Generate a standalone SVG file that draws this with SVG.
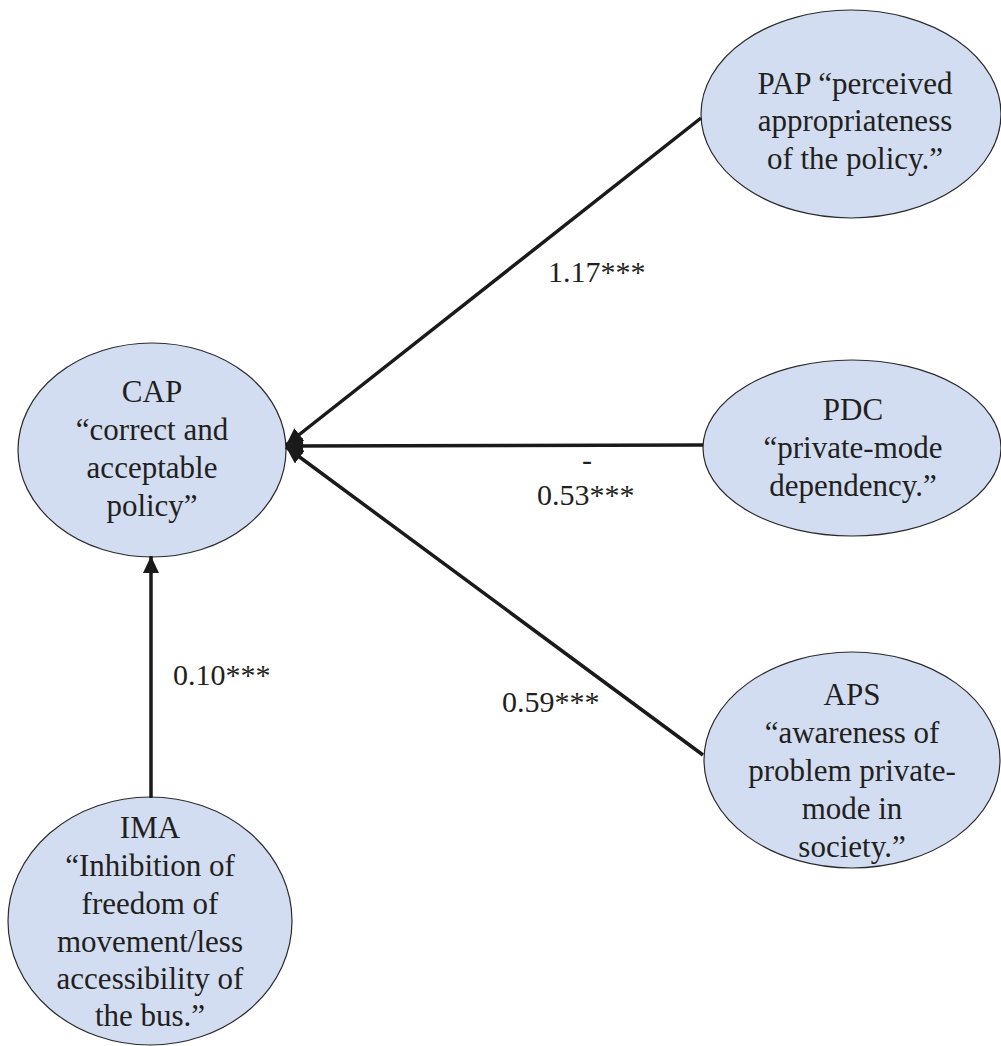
<svg xmlns="http://www.w3.org/2000/svg" width="1001" height="1046" viewBox="0 0 1001 1046">
<style>
.node ellipse{fill:#d2ddf1;stroke:#2b2b2b;stroke-width:1.2}
.node text{font-family:"Liberation Serif","Times New Roman",serif;font-size:31px;fill:#231f20;text-anchor:middle}
.lbl{font-family:"Liberation Serif","Times New Roman",serif;font-size:30px;fill:#231f20}
.edge{stroke:#1a1a1a;stroke-width:3.5;fill:none;marker-end:url(#ah)}
</style>
<defs>
<marker id="ah" markerUnits="userSpaceOnUse" markerWidth="18" markerHeight="16" refX="17" refY="8" orient="auto" viewBox="0 0 18 16">
<path d="M0,0 L17,8 L0,16 z" fill="#1a1a1a"/>
</marker>
</defs>
<rect width="1001" height="1046" fill="#ffffff"/>
<g id="CAP" class="node">
<ellipse cx="152" cy="450" rx="134" ry="107"/>
<text x="152" y="402">CAP</text>
<text x="152" y="440">“correct and</text>
<text x="152" y="478">acceptable</text>
<text x="152" y="516">policy”</text>
</g>
<g id="PAP" class="node">
<ellipse cx="851" cy="114" rx="150" ry="104"/>
<text x="855" y="94">PAP “perceived</text>
<text x="855" y="131">appropriateness</text>
<text x="855" y="169">of the policy.”</text>
</g>
<g id="PDC" class="node">
<ellipse cx="852" cy="448" rx="149" ry="88"/>
<text x="853" y="420">PDC</text>
<text x="853" y="458">“private-mode</text>
<text x="853" y="496">dependency.”</text>
</g>
<g id="APS" class="node">
<ellipse cx="852" cy="760" rx="148" ry="108"/>
<text x="852" y="705">APS</text>
<text x="852" y="743">“awareness of</text>
<text x="852" y="781">problem private-</text>
<text x="852" y="819">mode in</text>
<text x="852" y="857">society.”</text>
</g>
<g id="IMA" class="node">
<ellipse cx="150" cy="921" rx="142" ry="124"/>
<text x="150" y="838">IMA</text>
<text x="150" y="876">“Inhibition of</text>
<text x="150" y="914">freedom of</text>
<text x="150" y="952">movement/less</text>
<text x="150" y="989">accessibility of</text>
<text x="150" y="1026">the bus.”</text>
</g>
<g id="connectors">
<line class="edge" x1="701" y1="118" x2="286" y2="445"/>
<line class="edge" x1="703" y1="445" x2="286" y2="446"/>
<line class="edge" x1="703" y1="755" x2="286" y2="447"/>
<line class="edge" x1="151" y1="798" x2="151" y2="556"/>
</g>
<g id="labels">
<text class="lbl" x="548" y="282">1.17***</text>
<text class="lbl" x="587" y="470" text-anchor="middle">-</text>
<text class="lbl" x="537" y="505">0.53***</text>
<text class="lbl" x="173" y="685">0.10***</text>
<text class="lbl" x="502" y="712">0.59***</text>
</g>
</svg>
